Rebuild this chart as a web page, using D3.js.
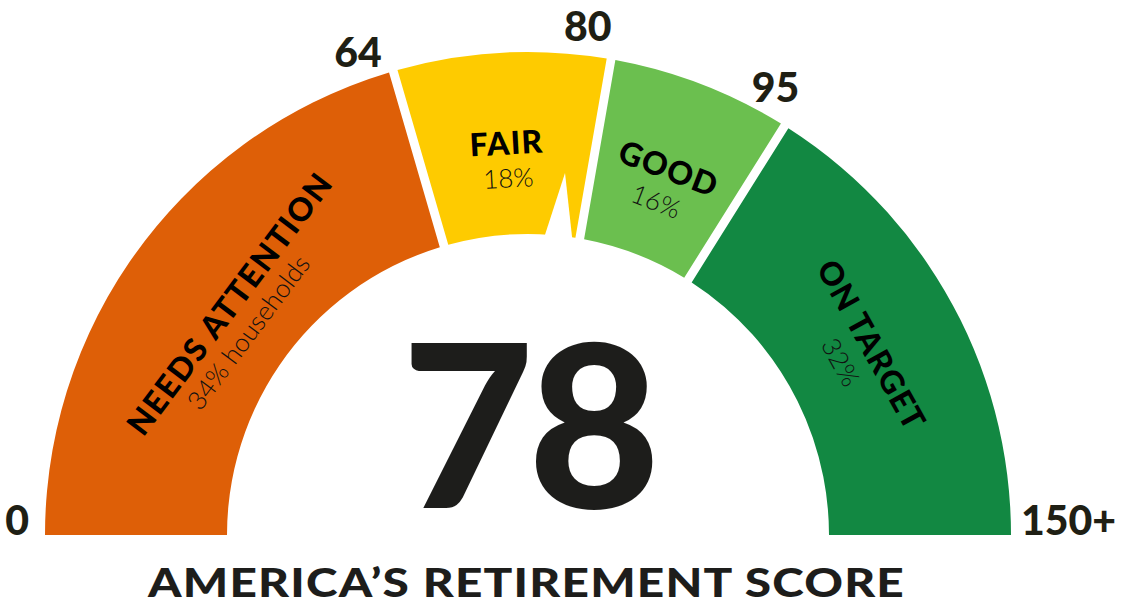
<!DOCTYPE html>
<html>
<head>
<meta charset="utf-8">
<script src="https://cdn.jsdelivr.net/npm/d3@7"></script>
<style>
  html, body { margin: 0; padding: 0; background: #fff; }
  svg { display: block; font-family: Lato, "Open Sans", sans-serif; }
</style>
</head>
<body>
<svg class="chart" width="1127" height="606"></svg>
<script>
// score bands
var categories = ["NEEDS ATTENTION", "FAIR", "GOOD", "ON TARGET"];
var shares = ["34% households", "18%", "16%", "32%"];
var breaks = [0, 64, 80, 95, 150];
var tickLabels = ["0", "64", "80", "95", "150+"];
var score = 78;
var title = "AMERICA\u2019S RETIREMENT SCORE";

var colors = ["#de5f07", "#fecb00", "#6bbf4f", "#128842"];

var svg = d3.select(".chart"),
    WIDTH = 1127,
    cx = 528,
    cy = 535,
    R_IN = 301,
    R_OUT = 483;

// the bands are not evenly spaced on the dial, so the scale is piecewise
var angle = d3.scaleLinear()
    .domain(breaks)
    .range([-90, -16.2, 9.9, 32.1, 90]);

var rad = function(deg) { return deg * Math.PI / 180; };

var bands = categories.map(function(c, i) {
  return { name: c, share: shares[i], from: breaks[i], to: breaks[i + 1], color: colors[i], i: i };
});

svg.append("defs").append("clipPath").attr("id", "half")
  .append("rect").attr("x", 0).attr("y", 0).attr("width", WIDTH).attr("height", cy);

var g = svg.append("g").attr("transform", "translate(" + cx + "," + cy + ")");

var arc = d3.arc()
    .innerRadius(R_IN)
    .outerRadius(R_OUT)
    .padRadius(400)
    .padAngle(0.022);

g.append("g")
  .attr("transform", "translate(" + (-cx) + "," + (-cy) + ")")
  .attr("clip-path", "url(#half)")
  .append("g").attr("transform", "translate(" + cx + "," + cy + ")")
  .selectAll("path")
  .data(bands)
  .enter().append("path")
    .attr("d", function(d) {
      var a0 = angle(d.from), a1 = angle(d.to);
      if (d.i === 0) a0 -= 5;              // run past the baseline, clipped off
      if (d.i === bands.length - 1) a1 += 5;
      return arc({ startAngle: rad(a0), endAngle: rad(a1) });
    })
    .attr("fill", function(d) { return d.color; });

// needle: white notch cut into the band
var a = rad(angle(score) - 0.8);
var tipR = 364, baseR = 294, half = 15;
var pt = function(r, off) {
  return [r * Math.sin(a) + off * Math.cos(a), -r * Math.cos(a) + off * Math.sin(a)];
};
g.append("path")
  .attr("d", d3.line()([pt(baseR, -half), pt(tipR, 0), pt(baseR, half)]) + "Z")
  .attr("fill", "#fff");

// band labels
var lab = g.selectAll("g.lab")
  .data(bands)
  .enter().append("g")
    .attr("class", "lab")
    .attr("transform", function(d) {
      var mid = (angle(d.from) + angle(d.to)) / 2;
      var r = d.name.length > 10 ? 360 : 375;
      return "rotate(" + mid + ") translate(0," + (-r) + ")";
    });

lab.append("text")
  .attr("text-anchor", "middle")
  .attr("x", function(d) { return d.name.length > 10 ? 6 : 0; })
  .attr("y", -6)
  .attr("font-size", 32)
  .attr("font-weight", 900)
  .attr("letter-spacing", function(d) { return d.name.length > 10 ? 1.8 : 1.2; })
  .attr("fill", "#000")
  .text(function(d) { return d.name; });

lab.append("text")
  .attr("text-anchor", "middle")
  .attr("x", function(d) { return d.name.length > 10 ? -6 : 0; })
  .attr("y", function(d) { return d.name.length > 10 ? 24 : 27; })
  .attr("font-size", 26)
  .attr("font-weight", 300)
  .attr("fill", "#111")
  .text(function(d) { return d.share; });

// boundary numbers
svg.selectAll("text.tick")
  .data(tickLabels)
  .enter().append("text")
    .attr("class", "tick")
    .attr("font-size", 41)
    .attr("font-weight", 900)
    .attr("fill", "#1f1f14")
    .attr("text-anchor", function(d, i) {
      return i === 0 ? "end" : i === tickLabels.length - 1 ? "start" : "middle";
    })
    .attr("x", function(d, i) {
      if (i === 0) return cx - R_OUT - 16;
      if (i === tickLabels.length - 1) return cx + R_OUT + 10;
      return cx + 512 * Math.sin(rad(angle(breaks[i]) - 3.2));
    })
    .attr("y", function(d, i) {
      if (i === 0 || i === tickLabels.length - 1) return cy;
      return cy - 512 * Math.cos(rad(angle(breaks[i]) - 3.2));
    })
    .attr("dy", function(d, i) {
      return (i === 0 || i === tickLabels.length - 1) ? 0 : "0.36em";
    })
    .text(function(d) { return d; });

// big score
svg.append("text")
  .attr("x", cx)
  .attr("y", 508)
  .attr("text-anchor", "middle")
  .attr("font-size", 228)
  .attr("font-weight", 900)
  .attr("letter-spacing", -6)
  .attr("fill", "#1d1d1b")
  .text(score);

svg.append("text")
  .attr("x", 148)
  .attr("y", 597)
  .attr("font-size", 40)
  .attr("font-weight", 900)
  .attr("letter-spacing", 1)
  .attr("textLength", 757)
  .attr("lengthAdjust", "spacingAndGlyphs")
  .attr("fill", "#1d1d1b")
  .text(title);
</script>
</body>
</html>
